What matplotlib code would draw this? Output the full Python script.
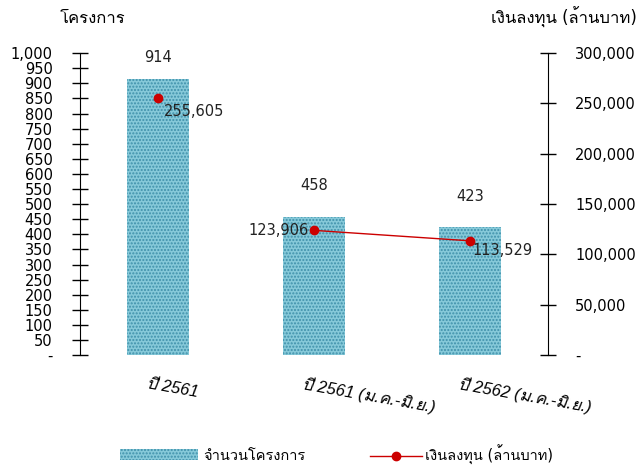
import matplotlib
matplotlib.use("Agg")
import matplotlib.pyplot as plt
import matplotlib.transforms as mtransforms
from matplotlib import font_manager
from matplotlib.ft2font import FT2Font
from matplotlib.lines import Line2D
from matplotlib.patches import Patch

categories = ["ปี 2561", "ปี 2561 (ม.ค.-มิ.ย.)", "ปี 2562 (ม.ค.-มิ.ย.)"]
projects = [914, 458, 423]
investment = [255605, 123906, 113529]
left_ticks = list(range(0, 1001, 50))
right_ticks = list(range(0, 300001, 50000))


# find some installed font that has Thai glyphs
def find_thai_font():
    for f in font_manager.fontManager.ttflist:
        try:
            ft = FT2Font(f.fname)
            if 0x0E42 in ft.get_charmap():
                return f.name
        except Exception:
            continue
    return None


thai = find_thai_font()
fams = ["DejaVu Sans"] + ([thai] if thai else [])
xfams = ["Liberation Sans"] + ([thai] if thai else [])
plt.rcParams["font.family"] = fams

BAR_FACE = "#86C9D9"
BAR_DOTS = "#3F90AA"
RED = "#CC0000"

fig = plt.figure(figsize=(6.4, 4.66), dpi=100)
ax = fig.add_axes([0.125, 0.238, 0.731, 0.648])
ax2 = ax.twinx()

x = list(range(len(categories)))
ax.bar(x, projects, width=0.4, color=BAR_FACE, edgecolor=BAR_DOTS,
       hatch=".....", linewidth=0)
bar_off = [10, 17, 17]
for xi, v, dy in zip(x, projects, bar_off):
    ax.annotate(str(v), (xi, v), xytext=(0, dy), textcoords="offset points",
                ha="center", va="bottom", fontsize=10.5, color="#222222")

ax.set_xlim(-0.5, 2.5)
ax.set_ylim(0, 1000)
ax.set_yticks(left_ticks)
ax.set_yticklabels(["-" if t == 0 else f"{t:,}" for t in left_ticks], fontsize=10.5)

ax2.set_ylim(0, 300000)
ax2.set_yticks(right_ticks)
ax2.set_yticklabels(["-" if t == 0 else f"{t:,}" for t in right_ticks], fontsize=10.5)

# first point stands alone, line joins the half-year points
ax2.plot(x[1:], investment[1:], color=RED, linewidth=1, zorder=3)
ax2.plot(x, investment, linestyle="none", marker="o", markersize=6,
         color=RED, zorder=4)
offsets = [(4, -10, "left"), (-4, 0, "right"), (2, -7, "left")]
for xi, v, (dx, dy, ha) in zip(x, investment, offsets):
    ax2.annotate(f"{v:,}", (xi, v), xytext=(dx, dy), textcoords="offset points",
                 ha=ha, va="center", fontsize=10.5, color="#222222")

for a in (ax, ax2):
    for s in ("top", "bottom"):
        a.spines[s].set_visible(False)
    a.tick_params(axis="y", direction="inout", length=11.5, width=1, pad=14)
ax.spines["right"].set_visible(False)
ax2.spines["left"].set_visible(False)

ax.set_xticks(x)
ax.set_xticklabels(categories, rotation=-10, rotation_mode="anchor", ha="left",
                   fontstyle="italic", fontsize=12, family=xfams)
ax.tick_params(axis="x", length=0, pad=15)
shift = mtransforms.ScaledTranslation(-7 / 72, 0, fig.dpi_scale_trans)
for lbl in ax.get_xticklabels():
    lbl.set_transform(lbl.get_transform() + shift)

fig.text(0.094, 0.962, "โครงการ", fontsize=12, ha="left", va="center")
fig.text(0.995, 0.962, "เงินลงทุน (ล้านบาท)", fontsize=12, ha="right", va="center")

bar_handle = Patch(facecolor=BAR_FACE, edgecolor=BAR_DOTS, hatch=".....", linewidth=0)
line_handle = Line2D([], [], color=RED, marker="o", markersize=6, linewidth=1)
leg1 = fig.legend([bar_handle], ["จำนวนโครงการ"], loc="center left",
                  bbox_to_anchor=(0.188, 0.023), frameon=False, fontsize=10.5,
                  handlelength=5.3, handleheight=0.8, handletextpad=0.4,
                  borderaxespad=0, borderpad=0)
leg2 = fig.legend([line_handle], ["เงินลงทุน (ล้านบาท)"], loc="center left",
                  bbox_to_anchor=(0.578, 0.023), frameon=False, fontsize=10.5,
                  handlelength=3.6, handletextpad=0.2, borderaxespad=0, borderpad=0)

fig.savefig("out.png", dpi=100)
